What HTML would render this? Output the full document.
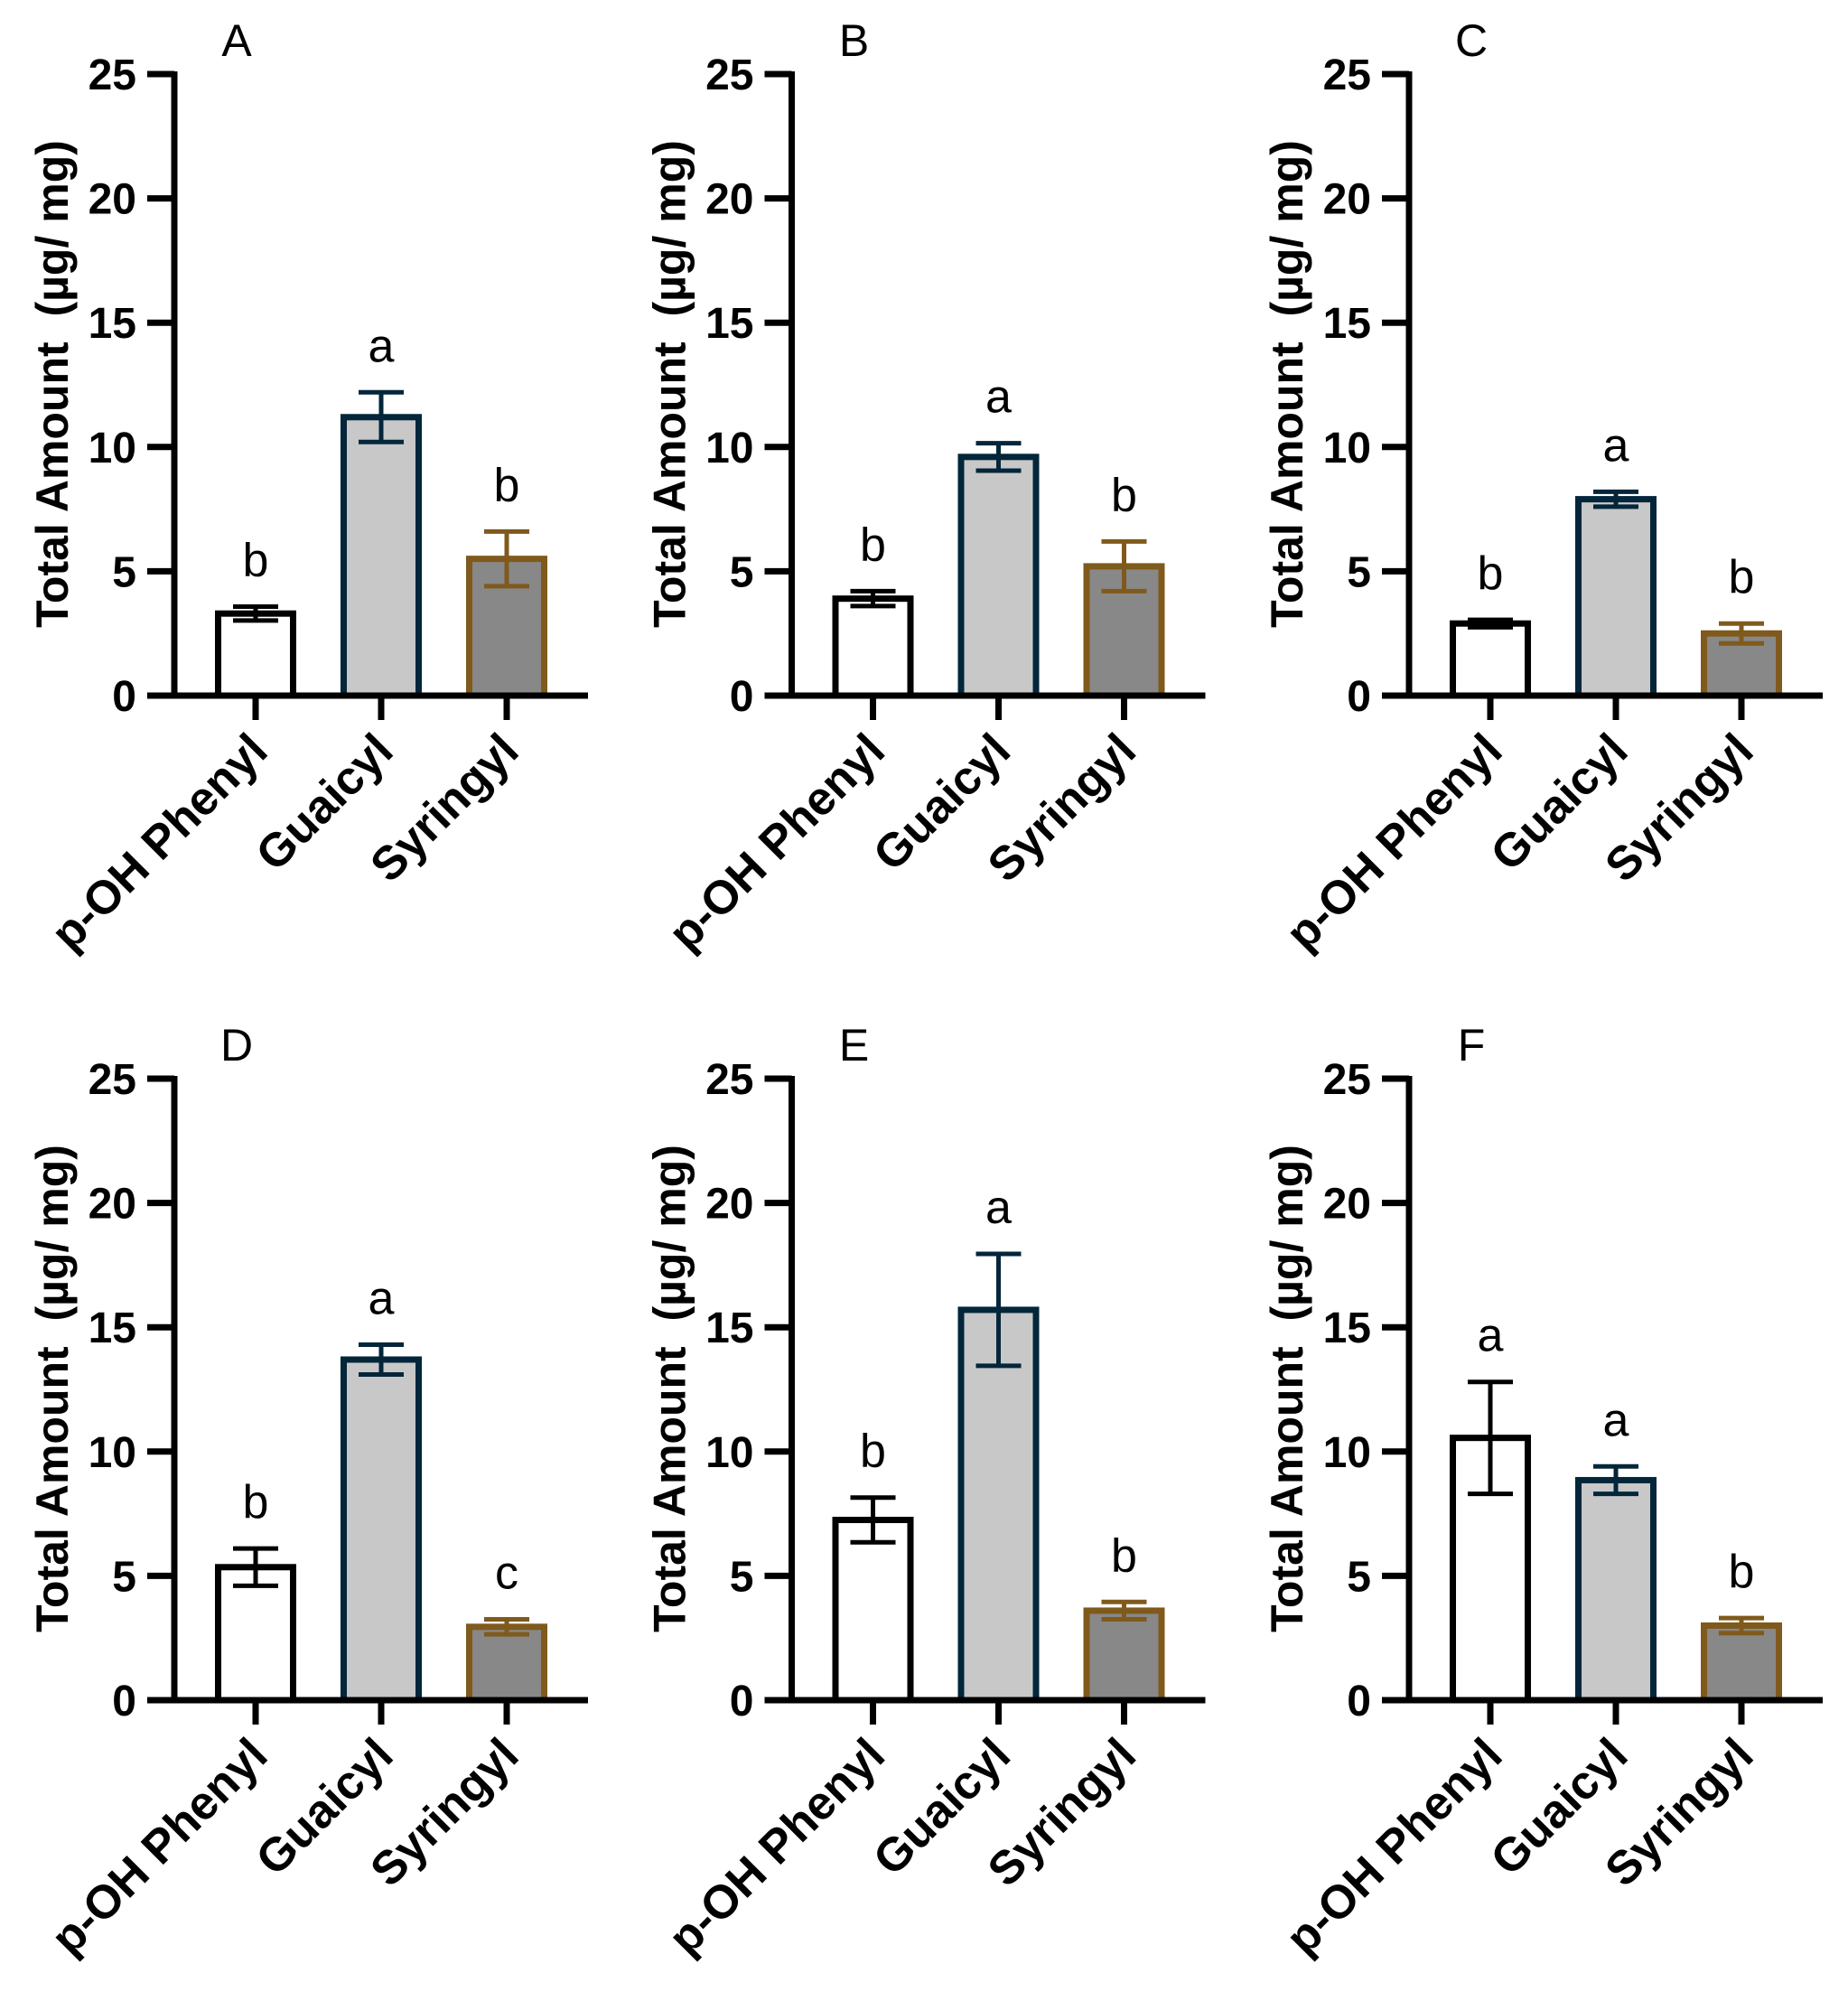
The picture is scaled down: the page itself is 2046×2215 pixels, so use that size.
<!DOCTYPE html>
<html><head><meta charset="utf-8"><style>
html,body{margin:0;padding:0;background:#fff;}
svg{display:block;font-family:"Liberation Sans",Arial,sans-serif;}
</style></head><body>
<svg id="fig" width="2046" height="2215" viewBox="0 0 2046 2215"></svg>
<script>
const panelLabels = ["A","B","C","D","E","F"];
const categories = ["p-OH Phenyl","Guaicyl","Syringyl"];
const meanPOH = [3.3, 3.9, 2.9, 5.35, 7.25, 10.55];
const meanGua = [11.2, 9.6, 7.9, 13.7, 15.7, 8.85];
const meanSyr = [5.5, 5.2, 2.5, 2.95, 3.6, 3.0];
const errPOH = [0.28, 0.3, 0.15, 0.75, 0.9, 2.25];
const errGua = [1.0, 0.55, 0.3, 0.6, 2.25, 0.55];
const errSyr = [1.1, 1.0, 0.4, 0.3, 0.35, 0.3];
const sigPOH = ["b","b","b","b","b","a"];
const sigGua = ["a","a","a","a","a","a"];
const sigSyr = ["b","b","b","c","b","b"];
const yTicks = [0,5,10,15,20,25];

const NS="http://www.w3.org/2000/svg";
const svg=document.getElementById('fig');
function mk(tag,attrs,parent){const e=document.createElementNS(NS,tag);for(const k in attrs)e.setAttribute(k,attrs[k]);(parent||svg).appendChild(e);return e;}

const fills=["#ffffff","#c8c8c8","#888888"];
const strokes=["#000000","#03263a","#7f5a1c"];
const means=[meanPOH,meanGua,meanSyr], errs=[errPOH,errGua,errSyr], sigs=[sigPOH,sigGua,sigSyr];
const catKeys=["p-oh-phenyl","guaicyl","syringyl"];

for(let p=0;p<6;p++){
  const ox=(p%3)*683.5, oy=Math.floor(p/3)*1112;
  const g=mk('g',{transform:`translate(${ox},${oy})`});
  
  
  const axX=193, y0=770, yTop=82;
  const ys=v=>y0-(v/25)*(y0-yTop);
  const xs=i=>283+i*139;
  const t=mk('text',{x:262,y:62,'font-size':50,'text-anchor':'middle'},g);
  t.textContent=panelLabels[p];
  
  
  const yt=mk('text',{x:0,y:0,'font-size':50,'font-weight':'bold','text-anchor':'middle',transform:`translate(75,425) rotate(-90)`},g);
  yt.textContent="Total Amount\u00a0 (µg/ mg)";
  
  
  for(let i=0;i<3;i++){
    const v=means[i][p], e=errs[i][p], cx=xs(i);
    const r=mk('rect',{x:cx-41.5,y:ys(v),width:83,height:y0-ys(v),fill:fills[i],stroke:strokes[i],'stroke-width':7},g);
    
    
    const eb=mk('path',{d:`M${cx},${ys(v-e)}V${ys(v+e)}M${cx-25},${ys(v+e)}H${cx+25}M${cx-25},${ys(v-e)}H${cx+25}`,stroke:strokes[i],'stroke-width':5,fill:'none'},g);
    
    
    const s=mk('text',{x:cx,y:ys(v+e)-34,'font-size':52,'text-anchor':'middle'},g);
    s.textContent=sigs[i][p];
    
    
    const tk=mk('line',{x1:cx,y1:y0,x2:cx,y2:797,stroke:'#000','stroke-width':7},g);
    
    
    const cl=mk('text',{x:0,y:0,'font-size':52,'font-weight':'bold','text-anchor':'end',transform:`translate(${cx+16},${834}) rotate(-45)`},g);
    cl.textContent=categories[i];
    
    
  }
  const ya=mk('line',{x1:axX,y1:yTop-3,x2:axX,y2:y0+3,stroke:'#000','stroke-width':7},g);
  
  
  const xa=mk('line',{x1:163,y1:y0,x2:651,y2:y0,stroke:'#000','stroke-width':7},g);
  
  
  for(const tv of yTicks){
    const yy=ys(tv);
    const tl=mk('line',{x1:163,y1:yy,x2:axX,y2:yy,stroke:'#000','stroke-width':7},g);
    
    
    const tt=mk('text',{x:151,y:yy+17,'font-size':48,'font-weight':'bold','text-anchor':'end'},g);
    tt.textContent=String(tv);
    
    
  }
}
</script>
</body></html>
